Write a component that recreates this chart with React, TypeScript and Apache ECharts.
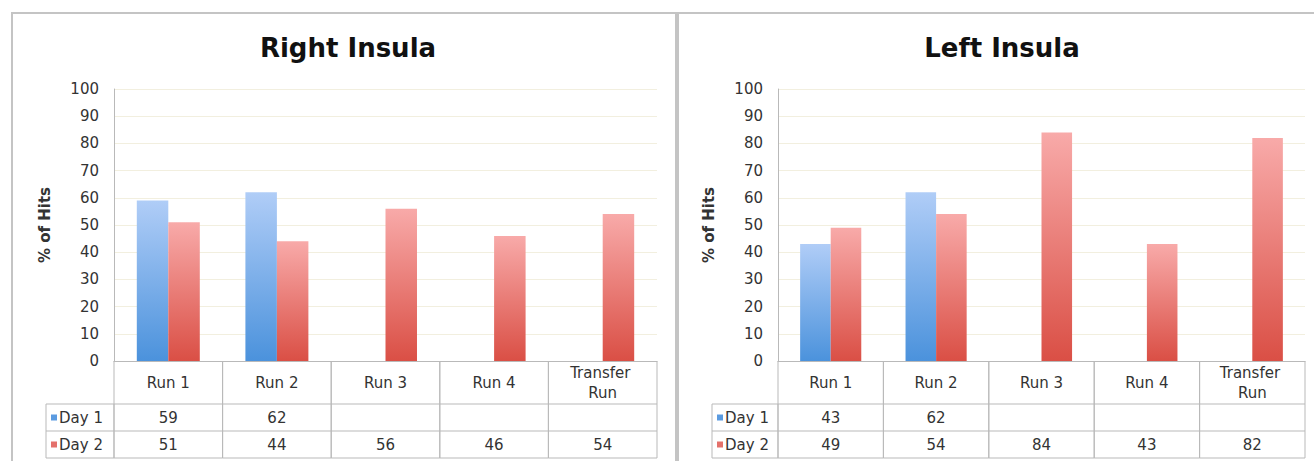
import React, { useEffect, useRef } from "react";
import * as echarts from "echarts";

// Runs shown along the x axis of both panels
const CATEGORIES = ["Run 1", "Run 2", "Run 3", "Run 4", "Transfer Run"];
// Y axis ticks
const Y_MIN = 0;
const Y_MAX = 100;
const Y_STEP = 10;
// Right Insula, % of hits
const RIGHT_DAY1 = [59, 62, null, null, null];
const RIGHT_DAY2 = [51, 44, 56, 46, 54];
// Left Insula, % of hits
const LEFT_DAY1 = [43, 62, null, null, null];
const LEFT_DAY2 = [49, 54, 84, 43, 82];

const SERIES_NAMES = ["Day 1", "Day 2"];
const TITLES = ["Right Insula", "Left Insula"];

const FONT = "'DejaVu Sans', 'Open Sans', sans-serif";
const BORDER = "#c4c4c4";
const TABLE_LINE = "#b9b9b9";
const TEXT = "#333333";

const BLUE = new echarts.graphic.LinearGradient(0, 0, 0, 1, [
  { offset: 0, color: "#b0cdf7" },
  { offset: 1, color: "#4b92dc" },
]);
const RED = new echarts.graphic.LinearGradient(0, 0, 0, 1, [
  { offset: 0, color: "#f8aaa9" },
  { offset: 1, color: "#da4f45" },
]);
const BLUE_SWATCH = "#5b9be0";
const RED_SWATCH = "#e4716b";

// Geometry of each panel's plot and table
const PANELS = [
  { left: 114, width: 543, legendLeft: 46, center: 348 },
  { left: 778, width: 527, legendLeft: 712, center: 1002 },
];
const PLOT_TOP = 89;
const PLOT_HEIGHT = 272;
const HEADER_H = 43;
const ROW_H = 27;

function tableSeries(panel: number, day1: (number | null)[], day2: (number | null)[]) {
  return {
    type: "custom",
    xAxisIndex: panel,
    yAxisIndex: panel,
    silent: true,
    clip: false,
    z: 1,
    data: CATEGORIES.map((_, i) => [i, 0]),
    renderItem: (params: any, api: any) => {
      const i = params.dataIndex;
      const [cx, y0] = api.coord([i, 0]);
      const w = api.size([1, 0])[0];
      const x0 = cx - w / 2;
      const x1 = cx + w / 2;
      const yH = y0 + HEADER_H;
      const yA = yH + ROW_H;
      const yB = yA + ROW_H;
      const line = (ax: number, ay: number, bx: number, by: number) => ({
        type: "line",
        shape: { x1: ax, y1: ay, x2: bx, y2: by },
        style: { stroke: TABLE_LINE, lineWidth: 1 },
      });
      const children: any[] = [
        line(x0, y0, x0, yB),
        line(x1, y0, x1, yB),
        line(x0, yH, x1, yH),
        line(x0, yA, x1, yA),
        line(x0, yB, x1, yB),
      ];
      const cell = (v: number | null, y: number) =>
        v == null
          ? null
          : {
              type: "text",
              x: cx,
              y,
              style: {
                text: String(v),
                textAlign: "center",
                textVerticalAlign: "middle",
                font: `15px ${FONT}`,
                fill: TEXT,
              },
            };
      const a = cell(day1[i], yH + ROW_H / 2);
      const b = cell(day2[i], yA + ROW_H / 2);
      if (a) children.push(a);
      if (b) children.push(b);
      return { type: "group", children };
    },
  };
}

function legendColumn(p: typeof PANELS[number]) {
  const yH = PLOT_TOP + PLOT_HEIGHT + HEADER_H;
  const rows = [
    { name: SERIES_NAMES[0], color: BLUE_SWATCH },
    { name: SERIES_NAMES[1], color: RED_SWATCH },
  ];
  const els: any[] = [
    {
      type: "rect",
      shape: { x: p.legendLeft, y: yH, width: p.left - p.legendLeft, height: ROW_H * 2 },
      style: { fill: "none", stroke: TABLE_LINE, lineWidth: 1 },
    },
    {
      type: "line",
      shape: { x1: p.legendLeft, y1: yH + ROW_H, x2: p.left, y2: yH + ROW_H },
      style: { stroke: TABLE_LINE, lineWidth: 1 },
    },
  ];
  rows.forEach((r, k) => {
    const cy = yH + ROW_H * k + ROW_H / 2;
    els.push({
      type: "rect",
      shape: { x: p.legendLeft + 5, y: cy - 3, width: 6, height: 6 },
      style: { fill: r.color },
    });
    els.push({
      type: "text",
      x: p.legendLeft + 13,
      y: cy,
      style: {
        text: r.name,
        textVerticalAlign: "middle",
        font: `15px ${FONT}`,
        fill: TEXT,
      },
    });
  });
  return els;
}

export default function App() {
  const ref = useRef<HTMLDivElement>(null);

  useEffect(() => {
    if (!ref.current) return;
    const chart = echarts.init(ref.current, null, { renderer: "svg" });

    const grids = PANELS.map((p) => ({
      left: p.left,
      top: PLOT_TOP,
      width: p.width,
      height: PLOT_HEIGHT,
    }));

    const xAxes = PANELS.map((_, k) => ({
      type: "category",
      gridIndex: k,
      data: CATEGORIES,
      axisLine: { show: true, lineStyle: { color: TABLE_LINE, width: 1 } },
      axisTick: { show: false },
      axisLabel: {
        color: TEXT,
        fontFamily: FONT,
        fontSize: 15,
        margin: HEADER_H / 2,
        lineHeight: 20,
        verticalAlign: "middle",
        width: 85,
        overflow: "break",
        interval: 0,
      },
    }));

    const yAxes = PANELS.map((_, k) => ({
      type: "value",
      gridIndex: k,
      min: Y_MIN,
      max: Y_MAX,
      interval: Y_STEP,
      name: "% of Hits",
      nameLocation: "middle",
      nameRotate: 90,
      nameGap: 62,
      nameTextStyle: { color: TEXT, fontFamily: FONT, fontSize: 15, fontWeight: "bold" },
      axisLine: { show: true, lineStyle: { color: TABLE_LINE, width: 1 } },
      axisTick: { show: false },
      axisLabel: { color: TEXT, fontFamily: FONT, fontSize: 15, margin: 15 },
      splitLine: { show: true, lineStyle: { color: "#f2efdf", width: 1 } },
    }));

    const barSeries = (k: number, name: string, data: (number | null)[], color: any) => ({
      type: "bar",
      name,
      xAxisIndex: k,
      yAxisIndex: k,
      data,
      barGap: "0%",
      barCategoryGap: "42%",
      itemStyle: { color },
      z: 2,
    });

    const graphics: any[] = [
      {
        type: "rect",
        shape: { x: 12, y: 13, width: 664, height: 470 },
        style: { fill: "none", stroke: BORDER, lineWidth: 2 },
      },
      {
        type: "rect",
        shape: { x: 678, y: 13, width: 660, height: 470 },
        style: { fill: "none", stroke: BORDER, lineWidth: 2 },
      },
      ...PANELS.map((p, k) => ({
        type: "text",
        x: p.center,
        y: 48,
        style: {
          text: TITLES[k],
          textAlign: "center",
          textVerticalAlign: "middle",
          font: `bold 26px ${FONT}`,
          fill: "#111111",
        },
      })),
      ...legendColumn(PANELS[0]),
      ...legendColumn(PANELS[1]),
    ];

    chart.setOption({
      animation: false,
      backgroundColor: "#ffffff",
      grid: grids,
      xAxis: xAxes,
      yAxis: yAxes,
      graphic: graphics,
      series: [
        barSeries(0, SERIES_NAMES[0], RIGHT_DAY1, BLUE),
        barSeries(0, SERIES_NAMES[1], RIGHT_DAY2, RED),
        barSeries(1, SERIES_NAMES[0], LEFT_DAY1, BLUE),
        barSeries(1, SERIES_NAMES[1], LEFT_DAY2, RED),
        tableSeries(0, RIGHT_DAY1, RIGHT_DAY2),
        tableSeries(1, LEFT_DAY1, LEFT_DAY2),
      ],
    });

    return () => chart.dispose();
  }, []);

  return (
    <div
      ref={ref}
      style={{ position: "fixed", left: 0, top: 0, width: 1314, height: 461, background: "#fff" }}
    />
  );
}
